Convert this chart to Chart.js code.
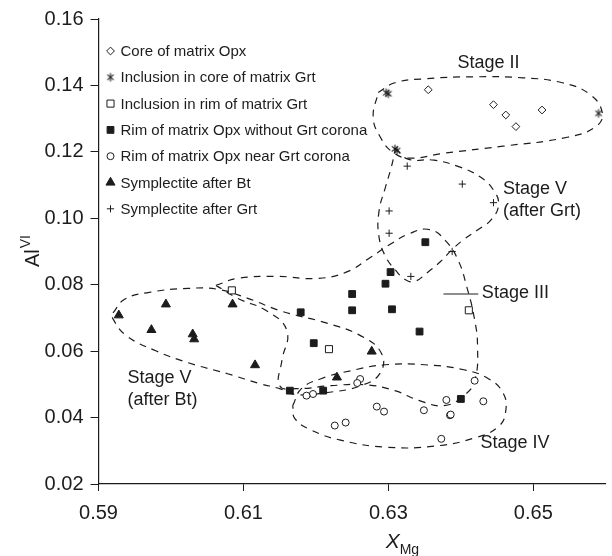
<!DOCTYPE html>
<html>
<head>
<meta charset="utf-8">
<script src="https://cdn.jsdelivr.net/npm/chart.js@4.4.1/dist/chart.umd.min.js"></script>
<style>
  html, body { margin: 0; padding: 0; background: #fff; }
  #wrap { width: 612px; height: 556px; }
</style>
</head>
<body>
<div id="wrap"><canvas id="plot"></canvas></div>
<script>
// XMg vs Al(VI) of orthopyroxene, one array per textural group
const coreOpx = [[0.6355, 0.1387], [0.6445, 0.1342], [0.6462, 0.1311], [0.6476, 0.1276], [0.6512, 0.1326]];
const inclCoreGrt = [[0.6297, 0.1378], [0.6300, 0.1375], [0.6309, 0.1209], [0.6312, 0.1204], [0.6590, 0.1316]];
const inclRimGrt = [[0.6084, 0.0783], [0.6218, 0.0606], [0.6411, 0.0723]];
const rimNoCorona = [[0.6351, 0.0928], [0.6303, 0.0838], [0.6296, 0.0803], [0.6250, 0.0772], [0.6250, 0.0723],
  [0.6305, 0.0726], [0.6343, 0.0659], [0.6179, 0.0717], [0.6197, 0.0624], [0.6164, 0.0481], [0.6210, 0.0481], [0.6400, 0.0456]];
const rimNearCorona = [[0.6261, 0.0516], [0.6257, 0.0504], [0.6196, 0.0471], [0.6187, 0.0466], [0.6284, 0.0433],
  [0.6294, 0.0418], [0.6226, 0.0376], [0.6241, 0.0385], [0.6349, 0.0422], [0.6380, 0.0453], [0.6385, 0.0407],
  [0.6386, 0.0409], [0.6431, 0.0449], [0.6419, 0.0511], [0.6373, 0.0336]];
const symplBt = [[0.5928, 0.0708], [0.5993, 0.0741], [0.5973, 0.0664], [0.6030, 0.0651], [0.6032, 0.0636],
  [0.6085, 0.0741], [0.6116, 0.0558], [0.6277, 0.0599], [0.6229, 0.0521]];
const symplGrt = [[0.6326, 0.1157], [0.6402, 0.1103], [0.6445, 0.1047], [0.6301, 0.1022], [0.6301, 0.0955],
  [0.6331, 0.0825], [0.6388, 0.0900]];

// dashed outlines of the stage fields (closed, first point repeated)
const fieldStageII = [[0.6286, 0.1379], [0.6309, 0.1408], [0.6350, 0.1420], [0.6418, 0.1426], [0.6485, 0.1423],
  [0.6540, 0.1408], [0.6578, 0.1373], [0.6595, 0.1319], [0.6587, 0.1277], [0.6547, 0.1244], [0.6458, 0.1217],
  [0.6377, 0.1196], [0.6329, 0.1181], [0.6306, 0.1199], [0.6289, 0.1244], [0.6279, 0.1304], [0.6286, 0.1379]];
const fieldStageVGrt = [[0.6310, 0.1211], [0.6327, 0.1178], [0.6363, 0.1175], [0.6399, 0.1154], [0.6427, 0.1124],
  [0.6445, 0.1085], [0.6452, 0.1041], [0.6442, 0.0996], [0.6424, 0.0966], [0.6404, 0.0936], [0.6388, 0.0906],
  [0.6372, 0.0870], [0.6354, 0.0837], [0.6336, 0.0810], [0.6323, 0.0816], [0.6309, 0.0846], [0.6296, 0.0885],
  [0.6287, 0.0945], [0.6287, 0.1020], [0.6296, 0.1094], [0.6304, 0.1154], [0.6310, 0.1211]];
const fieldStageIII = [[0.6062, 0.0798], [0.6092, 0.0819], [0.6146, 0.0825], [0.6201, 0.0819], [0.6241, 0.0837],
  [0.6275, 0.0882], [0.6302, 0.0921], [0.6329, 0.0954], [0.6357, 0.0966], [0.6380, 0.0930], [0.6397, 0.0870],
  [0.6408, 0.0795], [0.6418, 0.0706], [0.6423, 0.0616], [0.6419, 0.0511], [0.6404, 0.0466], [0.6377, 0.0436],
  [0.6343, 0.0451], [0.6309, 0.0481], [0.6268, 0.0499], [0.6221, 0.0496], [0.6173, 0.0487], [0.6150, 0.0496],
  [0.6153, 0.0571], [0.6160, 0.0661], [0.6133, 0.0720], [0.6092, 0.0759], [0.6062, 0.0798]];
const fieldStageIV = [[0.6168, 0.0436], [0.6180, 0.0487], [0.6207, 0.0517], [0.6248, 0.0541], [0.6296, 0.0559],
  [0.6350, 0.0559], [0.6404, 0.0544], [0.6438, 0.0517], [0.6458, 0.0475], [0.6462, 0.0421], [0.6452, 0.0373],
  [0.6418, 0.0338], [0.6363, 0.0314], [0.6296, 0.0311], [0.6234, 0.0332], [0.6194, 0.0362], [0.6171, 0.0397],
  [0.6168, 0.0436]];
const fieldStageVBt = [[0.5920, 0.0715], [0.5936, 0.0756], [0.5970, 0.0777], [0.6024, 0.0789], [0.6065, 0.0786],
  [0.6106, 0.0759], [0.6153, 0.0720], [0.6214, 0.0685], [0.6262, 0.0646], [0.6290, 0.0595], [0.6289, 0.0535],
  [0.6262, 0.0496], [0.6214, 0.0475], [0.6173, 0.0469], [0.6150, 0.0487], [0.6123, 0.0502], [0.6078, 0.0532],
  [0.6024, 0.0565], [0.5979, 0.0601], [0.5939, 0.0646], [0.5920, 0.0697], [0.5920, 0.0715]];

const xTicks = [0.59, 0.61, 0.63, 0.65];
const yTicks = [0.02, 0.04, 0.06, 0.08, 0.10, 0.12, 0.14, 0.16];

// field labels: [text lines, x, y, align]
const stageLabels = [
  [['Stage II'], 0.6438, 0.1466, 'center'],
  [['Stage V', '(after Grt)'], 0.6458, 0.1088, 'left'],
  [['Stage III'], 0.6429, 0.0775, 'left'],
  [['Stage V', '(after Bt)'], 0.5940, 0.0519, 'left'],
  [['Stage IV'], 0.6427, 0.0322, 'left']
];
const stageIIIPointer = [0.6376, 0.6424, 0.0772];

const ink = '#1c1c1c';
const FONT = "'Liberation Sans', Arial, Helvetica, sans-serif";
const toPts = arr => arr.map(p => ({ x: p[0], y: p[1] }));

// six-ray asterisk used for garnet-core inclusions
function asteriskSprite(r) {
  const s = Math.ceil(r * 2 + 3);
  const c = document.createElement('canvas');
  c.width = s; c.height = s;
  const g = c.getContext('2d');
  g.translate(s / 2, s / 2);
  g.strokeStyle = ink;
  g.lineWidth = 1.1;
  [90, 40, -40].forEach(a => {
    const t = a * Math.PI / 180;
    g.beginPath();
    g.moveTo(-r * Math.cos(t), -r * Math.sin(t));
    g.lineTo(r * Math.cos(t), r * Math.sin(t));
    g.stroke();
  });
  return c;
}
const asterisk = asteriskSprite(4.2);

const groups = [
  { label: 'Core of matrix Opx', data: coreOpx, style: 'rectRot', r: 3.9, fill: '#fff' },
  { label: 'Inclusion in core of matrix Grt', data: inclCoreGrt, style: asterisk, r: 4.2, fill: ink },
  { label: 'Inclusion in rim of matrix Grt', data: inclRimGrt, style: 'rect', r: 5.0, fill: '#fff' },
  { label: 'Rim of matrix Opx without Grt corona', data: rimNoCorona, style: 'rect', r: 4.8, fill: ink },
  { label: 'Rim of matrix Opx near Grt corona', data: rimNearCorona, style: 'circle', r: 3.5, fill: '#fff' },
  { label: 'Symplectite after Bt', data: symplBt, style: 'triangle', r: 5.2, fill: ink },
  { label: 'Symplectite after Grt', data: symplGrt, style: 'cross', r: 3.6, fill: ink }
];

const fields = [fieldStageII, fieldStageVGrt, fieldStageIII, fieldStageIV, fieldStageVBt];

const datasets = groups.map(g => ({
  label: g.label,
  data: toPts(g.data),
  showLine: false,
  pointStyle: g.style,
  pointRadius: g.r,
  pointHoverRadius: g.r,
  pointBackgroundColor: g.fill,
  pointBorderColor: ink,
  pointBorderWidth: 1,
  order: 0
})).concat(fields.map(f => ({
  label: '',
  data: toPts(f),
  showLine: true,
  fill: false,
  borderColor: ink,
  borderWidth: 1.2,
  borderDash: [7, 6],
  tension: 0.45,
  pointRadius: 0,
  pointHoverRadius: 0,
  order: 1
})));

const decor = {
  id: 'decor',
  afterDraw(chart) {
    const ctx = chart.ctx;
    const xs = chart.scales.x, ys = chart.scales.y;
    const area = chart.chartArea;
    ctx.save();
    ctx.fillStyle = ink;
    ctx.strokeStyle = ink;

    // legend in the upper left corner
    ctx.font = '15px ' + FONT;
    ctx.textBaseline = 'middle';
    ctx.textAlign = 'left';
    groups.forEach((g, i) => {
      const y = area.top + 32 + i * 26.3;
      const x = area.left + 12;
      ctx.save();
      ctx.fillStyle = g.fill;
      ctx.strokeStyle = ink;
      ctx.lineWidth = 1;
      Chart.helpers.drawPoint(ctx, { pointStyle: g.style, radius: g.r, borderWidth: 1, rotation: 0 }, x, y);
      ctx.restore();
      ctx.fillText(g.label, x + 10, y + 1);
    });

    // stage labels
    ctx.font = '18px ' + FONT;
    stageLabels.forEach(([lines, vx, vy, align]) => {
      ctx.textAlign = align;
      const px = xs.getPixelForValue(vx);
      const py = ys.getPixelForValue(vy);
      lines.forEach((t, k) => ctx.fillText(t, px, py + k * 22));
    });
    ctx.lineWidth = 1;
    ctx.beginPath();
    ctx.moveTo(xs.getPixelForValue(stageIIIPointer[0]), ys.getPixelForValue(stageIIIPointer[2]));
    ctx.lineTo(xs.getPixelForValue(stageIIIPointer[1]), ys.getPixelForValue(stageIIIPointer[2]));
    ctx.stroke();

    // y title: Al with VI superscript
    ctx.save();
    ctx.translate(31, (area.top + area.bottom) / 2);
    ctx.rotate(-Math.PI / 2);
    ctx.textAlign = 'left';
    ctx.textBaseline = 'alphabetic';
    ctx.font = '20px ' + FONT;
    const wAl = ctx.measureText('Al').width;
    ctx.font = '14px ' + FONT;
    const wVI = ctx.measureText('VI').width;
    const sx = -(wAl + wVI) / 2;
    ctx.font = '20px ' + FONT;
    ctx.fillText('Al', sx, 8);
    ctx.font = '14px ' + FONT;
    ctx.fillText('VI', sx + wAl + 1, -1);
    ctx.restore();

    // x title: italic X with Mg subscript, centred under 0.63
    ctx.textAlign = 'left';
    ctx.textBaseline = 'alphabetic';
    ctx.font = 'italic 21px ' + FONT;
    const wX = ctx.measureText('X').width;
    ctx.font = '14px ' + FONT;
    const wMg = ctx.measureText('Mg').width;
    const cx = xs.getPixelForValue(0.63) + 14;
    ctx.font = 'italic 21px ' + FONT;
    ctx.fillText('X', cx - (wX + wMg) / 2, 548);
    ctx.font = '14px ' + FONT;
    ctx.fillText('Mg', cx - (wX + wMg) / 2 + wX, 554);
    ctx.restore();
  }
};

new Chart(document.getElementById('plot'), {
  type: 'scatter',
  data: { datasets },
  options: {
    responsive: true,
    maintainAspectRatio: false,
    animation: false,
    events: [],
    layout: { padding: { top: 17, left: 0, right: 0, bottom: 0 } },
    plugins: { legend: { display: false }, tooltip: { enabled: false } },
    scales: {
      x: {
        type: 'linear',
        min: 0.59,
        max: 0.66,
        afterBuildTicks: s => { s.ticks = xTicks.map(v => ({ value: v })); },
        afterFit: s => { s.height = 72; },
        ticks: {
          color: ink,
          font: { family: FONT, size: 20 },
          padding: 10,
          autoSkip: false,
          maxRotation: 0,
          callback: v => v.toFixed(2)
        },
        grid: { display: true, drawOnChartArea: false, drawTicks: true, tickLength: 7, tickColor: ink, tickWidth: 1 },
        border: { display: true, color: ink, width: 1.2 }
      },
      y: {
        type: 'linear',
        min: 0.02,
        max: 0.16,
        afterBuildTicks: s => { s.ticks = yTicks.map(v => ({ value: v })); },
        afterFit: s => { s.width = 98.5; },
        ticks: {
          color: ink,
          font: { family: FONT, size: 20 },
          padding: 7,
          autoSkip: false,
          callback: v => v.toFixed(2)
        },
        grid: { display: true, drawOnChartArea: false, drawTicks: true, tickLength: 8, tickColor: ink, tickWidth: 1 },
        border: { display: true, color: ink, width: 1.2 }
      }
    }
  },
  plugins: [decor]
});
</script>
</body>
</html>
